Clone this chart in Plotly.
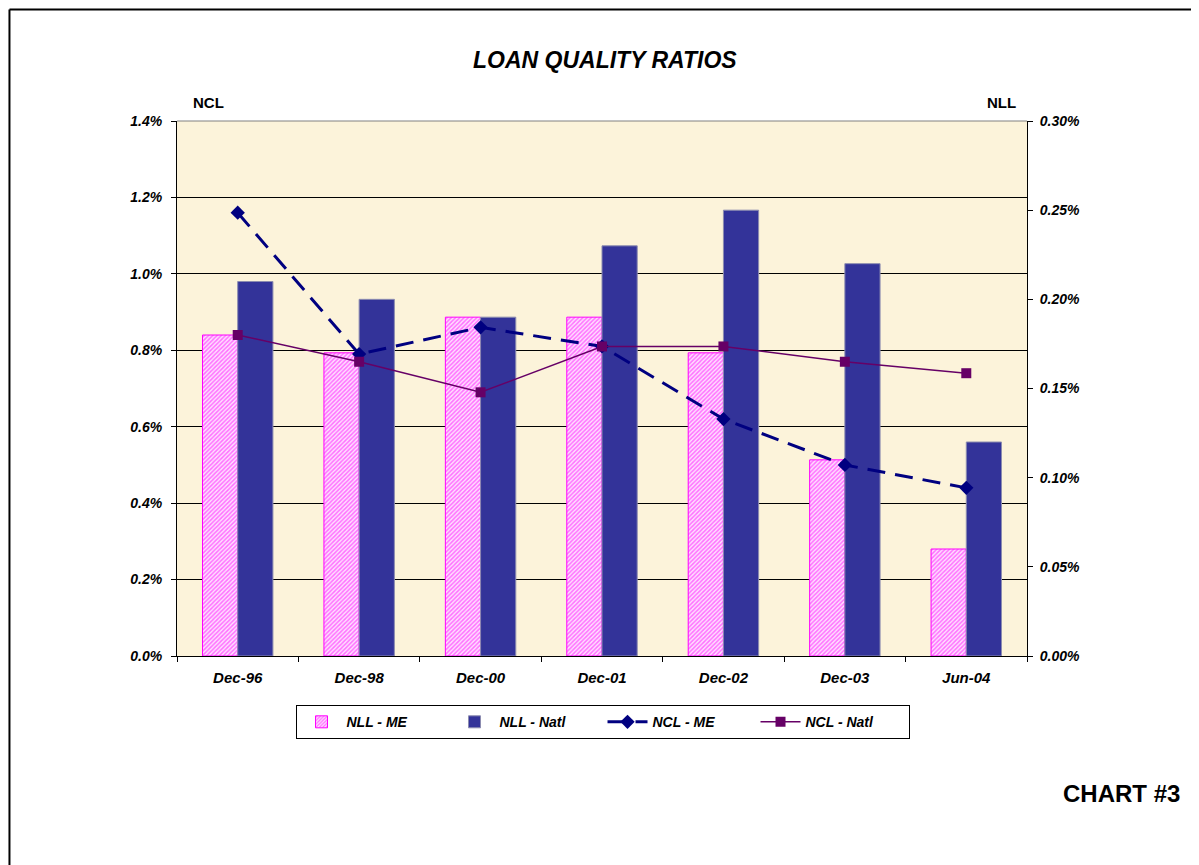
import plotly.graph_objects as go

categories = ["Dec-96", "Dec-98", "Dec-00", "Dec-01", "Dec-02", "Dec-03", "Jun-04"]
nll_me = [0.0018, 0.0017, 0.0019, 0.0019, 0.0017, 0.0011, 0.0006]
nll_natl = [0.0021, 0.0020, 0.0019, 0.0023, 0.0025, 0.0022, 0.0012]
ncl_me = [0.0116, 0.0079, 0.0086, 0.0081, 0.0062, 0.0050, 0.0044]
ncl_natl = [0.0084, 0.0077, 0.0069, 0.0081, 0.0081, 0.0077, 0.0074]

FONT = "Liberation Sans, Arial, sans-serif"

fig = go.Figure()
fig.add_trace(go.Bar(
    x=categories, y=nll_me, name="NLL - ME", yaxis="y",
    marker=dict(color="#FFFFFF", line=dict(color="#FF00FF", width=1),
                pattern=dict(shape="/", fgcolor="#FF00FF", bgcolor="#FFE0FF",
                             size=3, solidity=0.5)),
))
fig.add_trace(go.Bar(
    x=categories, y=nll_natl, name="NLL - Natl", yaxis="y",
    marker=dict(color="#333399", line=dict(color="#8C8CB0", width=1)),
))
fig.add_trace(go.Scatter(
    x=categories, y=ncl_me, name="NCL - ME", yaxis="y2", mode="lines+markers",
    line=dict(color="#000080", width=3, dash="18px,10px"),
    marker=dict(symbol="diamond", size=11, color="#000080"),
))
fig.add_trace(go.Scatter(
    x=categories, y=ncl_natl, name="NCL - Natl", yaxis="y2", mode="lines+markers",
    line=dict(color="#660066", width=1.5),
    marker=dict(symbol="square", size=10, color="#660066"),
))

tickfont = dict(family=FONT, size=14, color="black", weight="bold", style="italic")

fig.update_layout(
    width=1191, height=857,
    margin=dict(l=169, r=172, t=113, b=209),
    paper_bgcolor="white",
    plot_bgcolor="#FCF3DA",
    barmode="group", bargap=0.42, bargroupgap=0,
    showlegend=True,
    legend=dict(orientation="h", x=0.5006, xanchor="center", y=-0.092, yanchor="top",
                bordercolor="black", borderwidth=1, bgcolor="white",
                font=dict(family=FONT, size=14, color="black", weight="bold", style="italic"),
                traceorder="normal", itemwidth=40,
                entrywidth=98, entrywidthmode="pixels"),
    xaxis=dict(showline=True, linecolor="black", linewidth=1, ticks="outside",
               tickson="boundaries", ticklen=5, tickcolor="black",
               tickfont=dict(family=FONT, size=15, color="black", weight="bold", style="italic"),
               showgrid=False, ticklabelstandoff=8),
    yaxis=dict(side="right", range=[0, 0.003], dtick=0.0005, tickformat=".2%",
               showline=True, linecolor="black", linewidth=1, ticks="outside",
               ticklen=5, tickcolor="black", showgrid=False, zeroline=False,
               tickfont=tickfont, ticklabelstandoff=4),
    yaxis2=dict(side="left", overlaying="y", range=[0, 0.014], dtick=0.002,
                tickformat=".1%", showline=True, linecolor="black", linewidth=1,
                ticks="outside", ticklen=5, tickcolor="black",
                showgrid=True, gridcolor="black", gridwidth=1, zeroline=False,
                tickfont=tickfont, ticklabelstandoff=6),
    shapes=[
        dict(type="line", xref="paper", yref="paper", x0=0, x1=1, y0=1, y1=1,
             line=dict(color="#808080", width=1)),
        dict(type="line", xref="paper", yref="paper", x0=-0.1971, x1=1.21, y0=1.2084, y1=1.2084,
             line=dict(color="black", width=2)),
        dict(type="line", xref="paper", yref="paper", x0=-0.1971, x1=-0.1971, y0=1.2084, y1=-0.40,
             line=dict(color="black", width=2)),
    ],
    annotations=[
        dict(text="LOAN QUALITY RATIOS", xref="paper", yref="paper", x=0.5039, y=1.1146,
             xanchor="center", yanchor="middle", showarrow=False,
             font=dict(family=FONT, size=23, color="black", weight="bold", style="italic")),
        dict(text="NCL", xref="paper", yref="paper", x=0.0376, y=1.0340,
             xanchor="center", yanchor="middle", showarrow=False,
             font=dict(family=FONT, size=15, color="black", weight="bold")),
        dict(text="NLL", xref="paper", yref="paper", x=0.9700, y=1.0340,
             xanchor="center", yanchor="middle", showarrow=False,
             font=dict(family=FONT, size=15, color="black", weight="bold")),
        dict(text="CHART #3", xref="paper", yref="paper", x=1.1106, y=-0.2579,
             xanchor="center", yanchor="middle", showarrow=False,
             font=dict(family=FONT, size=24, color="black", weight="bold")),
    ],
)

fig.write_html("out.html")
